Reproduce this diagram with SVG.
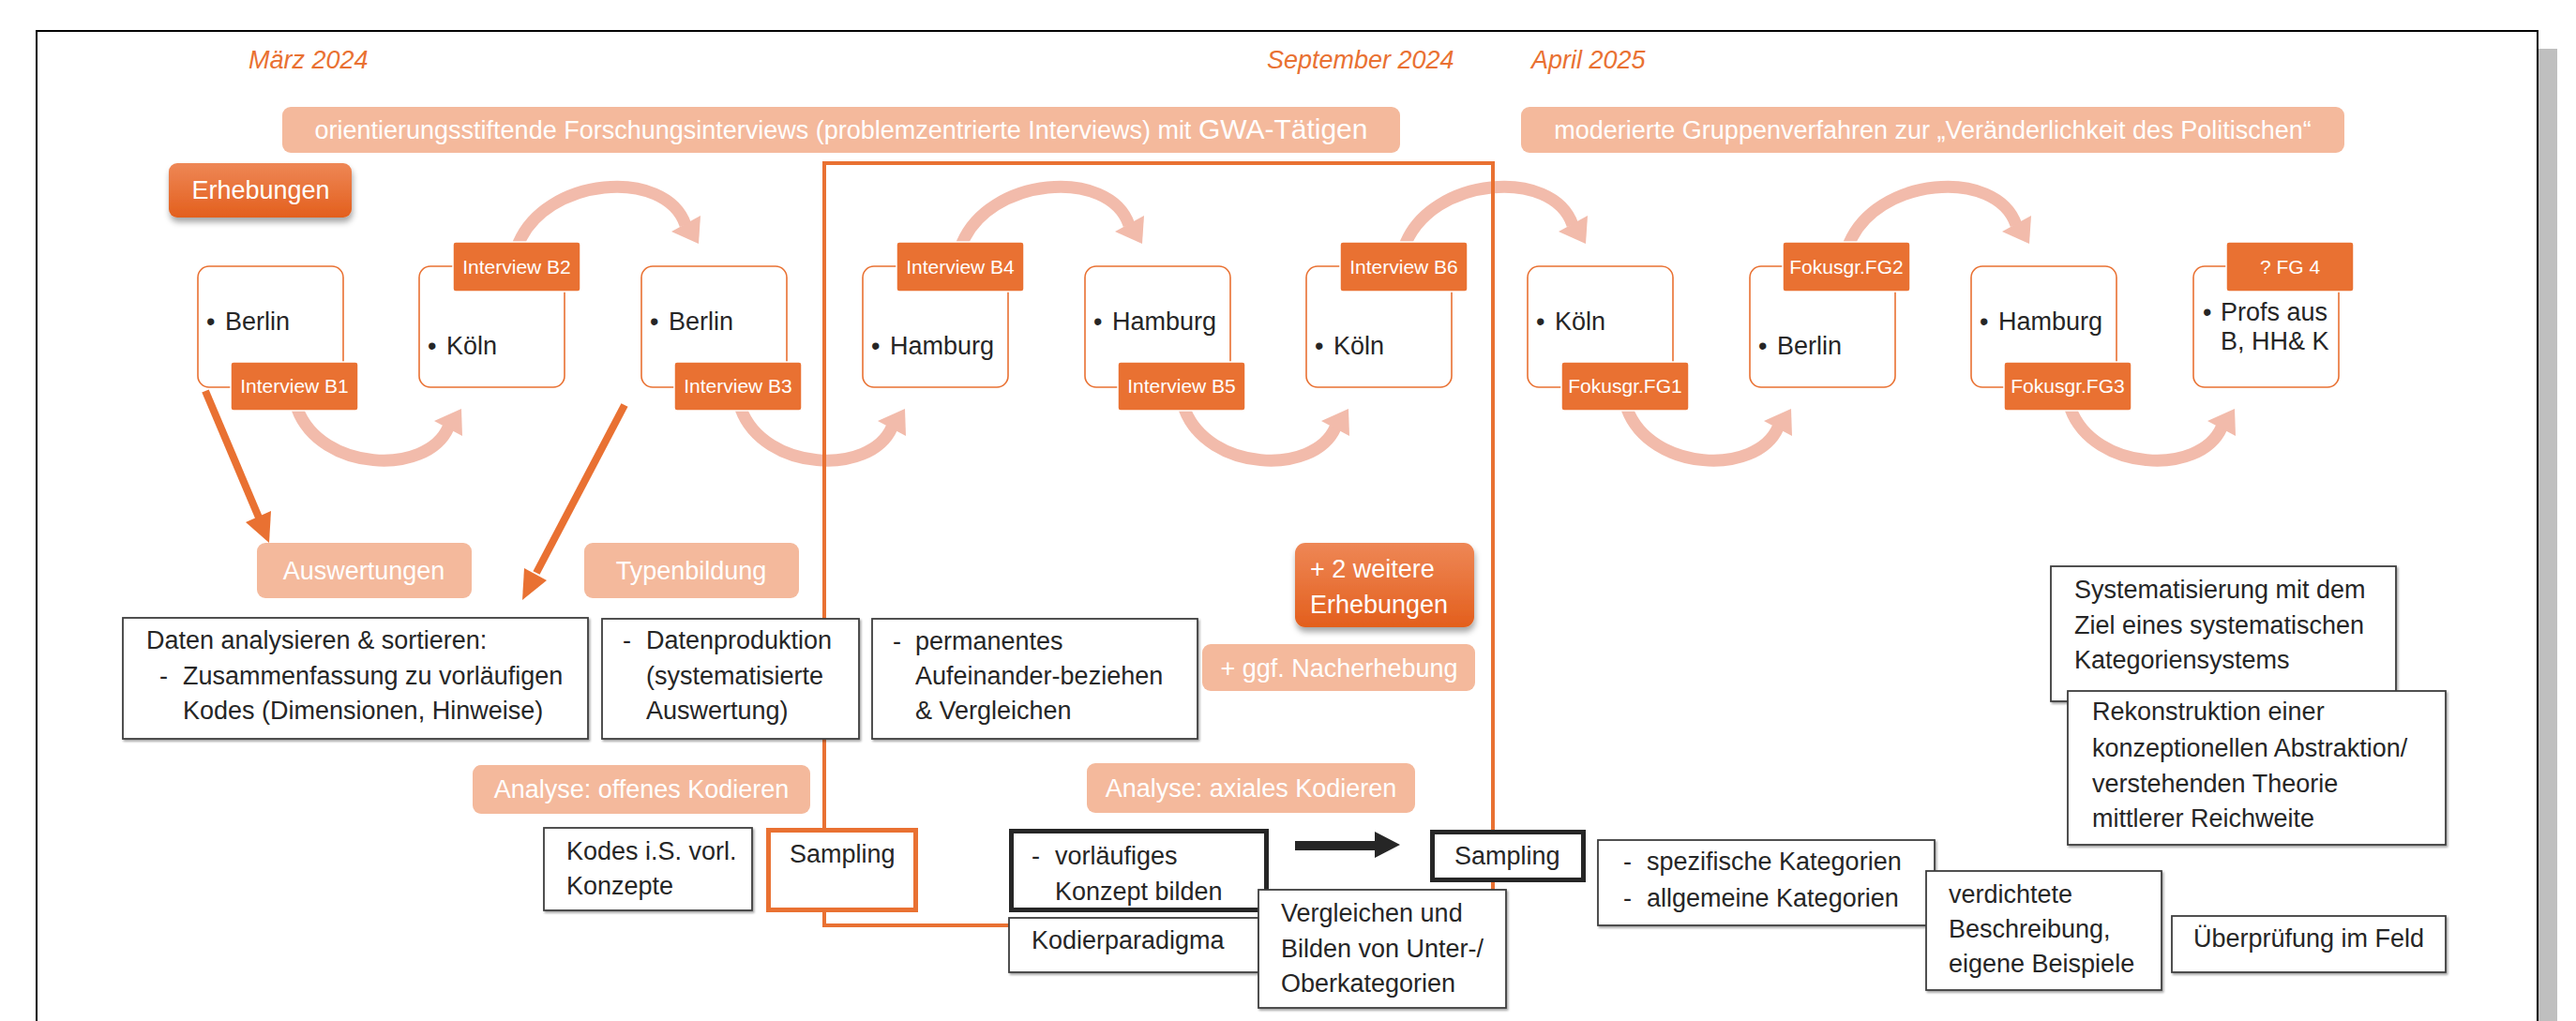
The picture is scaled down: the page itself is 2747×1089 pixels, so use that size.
<svg xmlns="http://www.w3.org/2000/svg" width="2747" height="1089" viewBox="0 0 2747 1089">
<defs>
<style>
text{font-family:"Liberation Sans",Arial,sans-serif;fill:#262626;font-size:27px}
.w{fill:#fff}
.mid{text-anchor:middle}
.date{fill:#E97132;font-style:italic;font-size:27px}
.lbl{font-size:21px;fill:#fff;text-anchor:middle}
.box{fill:#fff;stroke:#3f3f3f;stroke-width:1.8}
.node{fill:#fff;stroke:#E97132;stroke-width:1.6}
.tag{fill:#E97132;stroke:#fff;stroke-width:1.5}
.sal{fill:#F4B99C}
.arc{fill:none;stroke:#F2BBAB;stroke-width:13}
.arch{fill:#F2BBAB}
.oarr{stroke:#E97132;stroke-width:8;fill:none}
.oah{fill:#E97132}
</style>
<linearGradient id="og" x1="0" y1="0" x2="0" y2="1">
<stop offset="0" stop-color="#EE8756"/>
<stop offset="1" stop-color="#E35F1D"/>
</linearGradient>
<filter id="bsh" x="-10%" y="-10%" width="130%" height="140%">
<feDropShadow dx="1" dy="5" stdDeviation="3" flood-color="#000" flood-opacity="0.35"/>
</filter>
<filter id="sh" x="-5%" y="-5%" width="110%" height="115%">
<feDropShadow dx="1.5" dy="2" stdDeviation="0.8" flood-color="#000" flood-opacity="0.35"/>
</filter>
</defs>
<rect x="0" y="0" width="2747" height="1089" fill="#fff"/>
<rect x="2707" y="52" width="20" height="1040" fill="#bfbfbf"/>
<rect x="39" y="33" width="2667" height="1080" fill="#fff" stroke="#000" stroke-width="2"/>

<g id="dates">
<text class="date" x="265" y="73">März 2024</text>
<text class="date" x="1351" y="73">September 2024</text>
<text class="date" x="1633" y="73">April 2025</text>
</g>

<g id="banner-interviews">
<rect class="sal" x="301" y="114" width="1192" height="49" rx="9"/>
<text class="w mid" x="897" y="148" font-size="28">orientierungsstiftende Forschungsinterviews (problemzentrierte Interviews) mit <tspan font-size="30">GWA-Tätigen</tspan></text>
</g>
<g id="banner-gruppen">
<rect class="sal" x="1622" y="114" width="878" height="49" rx="9"/>
<text class="w mid" x="2061" y="148" font-size="28">moderierte Gruppenverfahren zur „Veränderlichkeit des Politischen“</text>
</g>

<g id="erhebungen">
<rect x="180" y="174" width="195" height="58" rx="9" fill="url(#og)" filter="url(#bsh)"/>
<text class="w mid" x="278" y="212">Erhebungen</text>
</g>

<g id="connectors">
<!-- bottom arcs -->
<path class="arc" d="M317,436 C342,503 455,508 478,456"/>
<polygon class="arch" points="463,449 493,465 492,436"/>
<path class="arc" d="M790,436 C815,503 928,508 951,456"/>
<polygon class="arch" points="936,449 966,465 965,436"/>
<path class="arc" d="M1263,436 C1288,503 1401,508 1424,456"/>
<polygon class="arch" points="1409,449 1439,465 1438,436"/>
<path class="arc" d="M1735,436 C1760,503 1873,508 1896,456"/>
<polygon class="arch" points="1881,449 1911,465 1910,436"/>
<path class="arc" d="M2208,436 C2233,503 2346,508 2369,456"/>
<polygon class="arch" points="2354,449 2384,465 2383,436"/>
<!-- top arcs -->
<path class="arc" d="M552,262 C580,188 710,178 731,240"/>
<polygon class="arch" points="716,247 747,230 745,260"/>
<path class="arc" d="M1025,262 C1053,188 1183,178 1204,240"/>
<polygon class="arch" points="1189,247 1220,230 1218,260"/>
<path class="arc" d="M1498,262 C1526,188 1656,178 1677,240"/>
<polygon class="arch" points="1662,247 1693,230 1691,260"/>
<path class="arc" d="M1971,262 C1999,188 2129,178 2150,240"/>
<polygon class="arch" points="2135,247 2166,230 2164,260"/>
<!-- orange arrows -->
<line class="oarr" x1="219" y1="417" x2="276" y2="552"/>
<polygon class="oah" points="287,579 262,557 289,545"/>
<line class="oarr" x1="666" y1="432" x2="572" y2="611"/>
<polygon class="oah" points="557,640 559,606 583,619"/>
<!-- dark block arrow -->
<polygon fill="#262626" points="1381,897 1466,897 1466,887 1493,901 1466,915 1466,907 1381,907"/>
</g>

<g id="node-b1">
<rect class="node" x="211" y="284" width="155" height="129" rx="12"/>
<rect class="tag" x="246" y="386" width="136" height="52" rx="3"/>
<text class="lbl" x="314" y="419">Interview B1</text>
<text x="220" y="352">•<tspan x="240">Berlin</tspan></text>
</g>
<g id="node-b2">
<rect class="node" x="447" y="284" width="155" height="129" rx="12"/>
<rect class="tag" x="483" y="258" width="136" height="53" rx="3"/>
<text class="lbl" x="551" y="292">Interview B2</text>
<text x="456" y="378">•<tspan x="476">Köln</tspan></text>
</g>
<g id="node-b3">
<rect class="node" x="684" y="284" width="155" height="129" rx="12"/>
<rect class="tag" x="719" y="386" width="136" height="52" rx="3"/>
<text class="lbl" x="787" y="419">Interview B3</text>
<text x="693" y="352">•<tspan x="713">Berlin</tspan></text>
</g>
<g id="node-b4">
<rect class="node" x="920" y="284" width="155" height="129" rx="12"/>
<rect class="tag" x="956" y="258" width="136" height="53" rx="3"/>
<text class="lbl" x="1024" y="292">Interview B4</text>
<text x="929" y="378">•<tspan x="949">Hamburg</tspan></text>
</g>
<g id="node-b5">
<rect class="node" x="1157" y="284" width="155" height="129" rx="12"/>
<rect class="tag" x="1192" y="386" width="136" height="52" rx="3"/>
<text class="lbl" x="1260" y="419">Interview B5</text>
<text x="1166" y="352">•<tspan x="1186">Hamburg</tspan></text>
</g>
<g id="node-b6">
<rect class="node" x="1393" y="284" width="155" height="129" rx="12"/>
<rect class="tag" x="1429" y="258" width="136" height="53" rx="3"/>
<text class="lbl" x="1497" y="292">Interview B6</text>
<text x="1402" y="378">•<tspan x="1422">Köln</tspan></text>
</g>
<g id="node-fg1">
<rect class="node" x="1629" y="284" width="155" height="129" rx="12"/>
<rect class="tag" x="1665" y="386" width="136" height="52" rx="3"/>
<text class="lbl" x="1733" y="419">Fokusgr.FG1</text>
<text x="1638" y="352">•<tspan x="1658">Köln</tspan></text>
</g>
<g id="node-fg2">
<rect class="node" x="1866" y="284" width="155" height="129" rx="12"/>
<rect class="tag" x="1901" y="258" width="136" height="53" rx="3"/>
<text class="lbl" x="1969" y="292">Fokusgr.FG2</text>
<text x="1875" y="378">•<tspan x="1895">Berlin</tspan></text>
</g>
<g id="node-fg3">
<rect class="node" x="2102" y="284" width="155" height="129" rx="12"/>
<rect class="tag" x="2137" y="386" width="136" height="52" rx="3"/>
<text class="lbl" x="2205" y="419">Fokusgr.FG3</text>
<text x="2111" y="352">•<tspan x="2131">Hamburg</tspan></text>
</g>
<g id="node-fg4">
<rect class="node" x="2339" y="284" width="155" height="129" rx="12"/>
<rect class="tag" x="2374" y="258" width="136" height="53" rx="3"/>
<text class="lbl" x="2442" y="292">? FG 4</text>
<text x="2349" y="342">•<tspan x="2368">Profs aus</tspan></text>
<text x="2368" y="373">B, HH&amp; K</text>
</g>

<g id="frame-orange">
<rect x="879" y="174" width="713" height="813" fill="none" stroke="#E97132" stroke-width="4"/>
</g>

<g id="auswertungen">
<rect class="sal" x="274" y="579" width="229" height="59" rx="9"/>
<text class="w mid" x="388" y="618">Auswertungen</text>
</g>
<g id="typenbildung">
<rect class="sal" x="623" y="579" width="229" height="59" rx="9"/>
<text class="w mid" x="737" y="618">Typenbildung</text>
</g>
<g id="weitere-erhebungen">
<rect x="1381" y="579" width="191" height="90" rx="11" fill="url(#og)" filter="url(#bsh)"/>
<text class="w" x="1397" y="616">+ 2 weitere</text>
<text class="w" x="1397" y="654">Erhebungen</text>
</g>
<g id="nacherhebung">
<rect class="sal" x="1282" y="687" width="291" height="50" rx="9"/>
<text class="w mid" x="1428" y="722">+ ggf. Nacherhebung</text>
</g>

<g id="daten">
<rect class="box" x="131" y="659" width="496" height="129" filter="url(#sh)"/>
<text x="156" y="692">Daten analysieren &amp; sortieren:</text>
<text x="170" y="730">-<tspan x="195">Zusammenfassung zu vorläufigen</tspan></text>
<text x="195" y="767">Kodes (Dimensionen, Hinweise)</text>
</g>
<g id="datenproduktion">
<rect class="box" x="642" y="660" width="274" height="128" filter="url(#sh)"/>
<text x="664" y="692">-<tspan x="689">Datenproduktion</tspan></text>
<text x="689" y="730">(systematisierte</text>
<text x="689" y="767">Auswertung)</text>
</g>
<g id="permanentes">
<rect class="box" x="930" y="660" width="347" height="128" filter="url(#sh)"/>
<text x="952" y="693">-<tspan x="976">permanentes</tspan></text>
<text x="976" y="730">Aufeinander-beziehen</text>
<text x="976" y="767">&amp; Vergleichen</text>
</g>

<g id="analyse-offen">
<rect class="sal" x="504" y="816" width="360" height="52" rx="9"/>
<text class="w mid" x="684" y="851">Analyse: offenes Kodieren</text>
</g>
<g id="analyse-axial">
<rect class="sal" x="1159" y="814" width="350" height="53" rx="9"/>
<text class="w mid" x="1334" y="850">Analyse: axiales Kodieren</text>
</g>

<g id="kodes">
<rect class="box" x="580" y="883" width="222" height="88" filter="url(#sh)"/>
<text x="604" y="917">Kodes i.S. vorl.</text>
<text x="604" y="954">Konzepte</text>
</g>
<g id="sampling-1">
<rect x="819.5" y="885.5" width="157" height="85" fill="#fff" stroke="#E97132" stroke-width="5"/>
<text x="842" y="920">Sampling</text>
</g>
<g id="konzept">
<rect x="1078.5" y="886.5" width="272" height="84" fill="#fff" stroke="#262626" stroke-width="5"/>
<text x="1100" y="922">-<tspan x="1125">vorläufiges</tspan></text>
<text x="1125" y="960">Konzept bilden</text>
</g>
<g id="kodierparadigma">
<rect class="box" x="1076" y="979" width="266" height="58" filter="url(#sh)"/>
<text x="1100" y="1012">Kodierparadigma</text>
</g>
<g id="vergleichen">
<rect class="box" x="1342" y="949" width="264" height="126" filter="url(#sh)"/>
<text x="1366" y="983">Vergleichen und</text>
<text x="1366" y="1021">Bilden von Unter-/</text>
<text x="1366" y="1058">Oberkategorien</text>
</g>
<g id="sampling-2">
<rect x="1527.5" y="887.5" width="161" height="51" fill="#fff" stroke="#262626" stroke-width="5"/>
<text x="1551" y="922">Sampling</text>
</g>
<g id="kategorien">
<rect class="box" x="1704" y="896" width="359" height="91" filter="url(#sh)"/>
<text x="1731" y="928">-<tspan x="1756">spezifische Kategorien</tspan></text>
<text x="1731" y="967">-<tspan x="1756">allgemeine Kategorien</tspan></text>
</g>
<g id="verdichtete">
<rect class="box" x="2054" y="929" width="251" height="127" filter="url(#sh)"/>
<text x="2078" y="963">verdichtete</text>
<text x="2078" y="1000">Beschreibung,</text>
<text x="2078" y="1037">eigene Beispiele</text>
</g>
<g id="ueberpruefung">
<rect class="box" x="2316" y="977" width="292" height="60" filter="url(#sh)"/>
<text x="2339" y="1010">Überprüfung im Feld</text>
</g>
<g id="systematisierung">
<rect class="box" x="2187" y="604" width="368" height="144" filter="url(#sh)"/>
<text x="2212" y="638">Systematisierung mit dem</text>
<text x="2212" y="676">Ziel eines systematischen</text>
<text x="2212" y="713">Kategoriensystems</text>
</g>
<g id="rekonstruktion">
<rect class="box" x="2205" y="737" width="403" height="164" filter="url(#sh)"/>
<text x="2231" y="768">Rekonstruktion einer</text>
<text x="2231" y="807">konzeptionellen Abstraktion/</text>
<text x="2231" y="845">verstehenden Theorie</text>
<text x="2231" y="882">mittlerer Reichweite</text>
</g>
</svg>
